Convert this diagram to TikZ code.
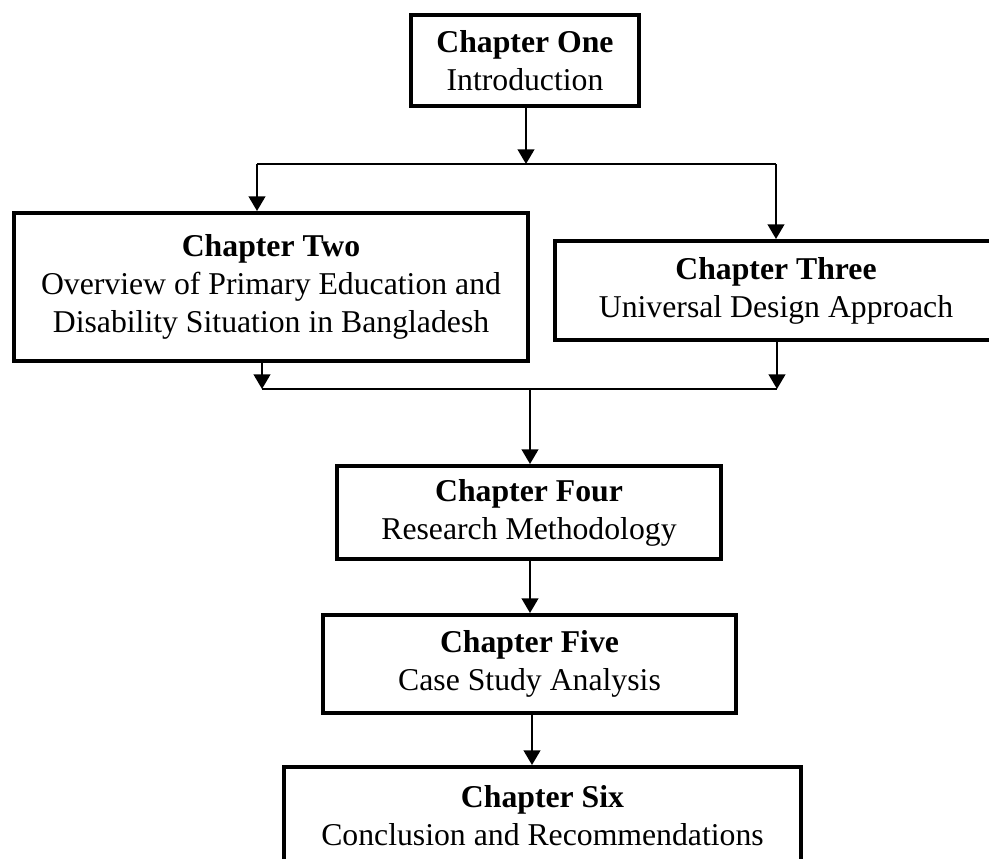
\documentclass[tikz,border=0pt]{standalone}
\usepackage{fontspec}
\setmainfont{Liberation Serif}
\usetikzlibrary{arrows.meta}
\tikzset{
  chbox/.style={draw, line width=3pt, fill=white, inner sep=0pt, align=center,
    font=\fontsize{23.8pt}{28.4pt}\selectfont},
  conn/.style={line width=1.6pt},
  arr/.style={conn, -{Triangle[length=11pt,width=12.5pt]}}
}
\begin{document}
\begin{tikzpicture}[x=0.75pt,y=-0.75pt]
\useasboundingbox (0,0) rectangle (989,858);
\clip (0,0) rectangle (989,858);
\fill[white] (0,0) rectangle (989,858);
\node[chbox, minimum width=171pt, minimum height=68.25pt] (b1) at (525,60.5)
  {\textbf{Chapter One}\\Introduction};
\node[chbox, minimum width=385.5pt, minimum height=111pt] (b2) at (271,287)
  {\textbf{Chapter Two}\\Overview of Primary Education and\\Disability Situation in Bangladesh};
\node[chbox, minimum width=331.5pt, minimum height=74.25pt] (b3) at (776,290.5)
  {\textbf{Chapter Three}\\Universal Design Approach};
\node[chbox, minimum width=288pt, minimum height=69.75pt] (b4) at (529,512.5)
  {\textbf{Chapter Four}\\Research Methodology};
\node[chbox, minimum width=309.75pt, minimum height=73.5pt] (b5) at (529.5,664)
  {\textbf{Chapter Five}\\Case Study Analysis};
\node[chbox, minimum width=387.75pt, minimum height=73.5pt] (b6) at (542.5,816)
  {\textbf{Chapter Six}\\Conclusion and Recommendations};
\coordinate (j1) at (526,164);
\coordinate (j1l) at (257,164);
\coordinate (j1r) at (776,164);
\coordinate (j2) at (530,389);
\coordinate (j2l) at (262,389);
\coordinate (j2r) at (777,389);
\draw[arr] (b1.south -| j1) -- (j1);
\draw[conn] (j1l) -- (j1r);
\draw[arr] (j1l) -- (j1l |- b2.north);
\draw[arr] (j1r) -- (j1r |- b3.north);
\draw[arr] (b2.south -| j2l) -- (j2l);
\draw[arr] (b3.south -| j2r) -- (j2r);
\draw[conn] (j2l) -- (j2r);
\draw[arr] (j2) -- (j2 |- b4.north);
\draw[arr] (b4.south -| j2) -- (j2 |- b5.north);
\coordinate (j3) at (532,740);
\draw[arr] (b5.south -| j3) -- (j3 |- b6.north);
\end{tikzpicture}
\end{document}
